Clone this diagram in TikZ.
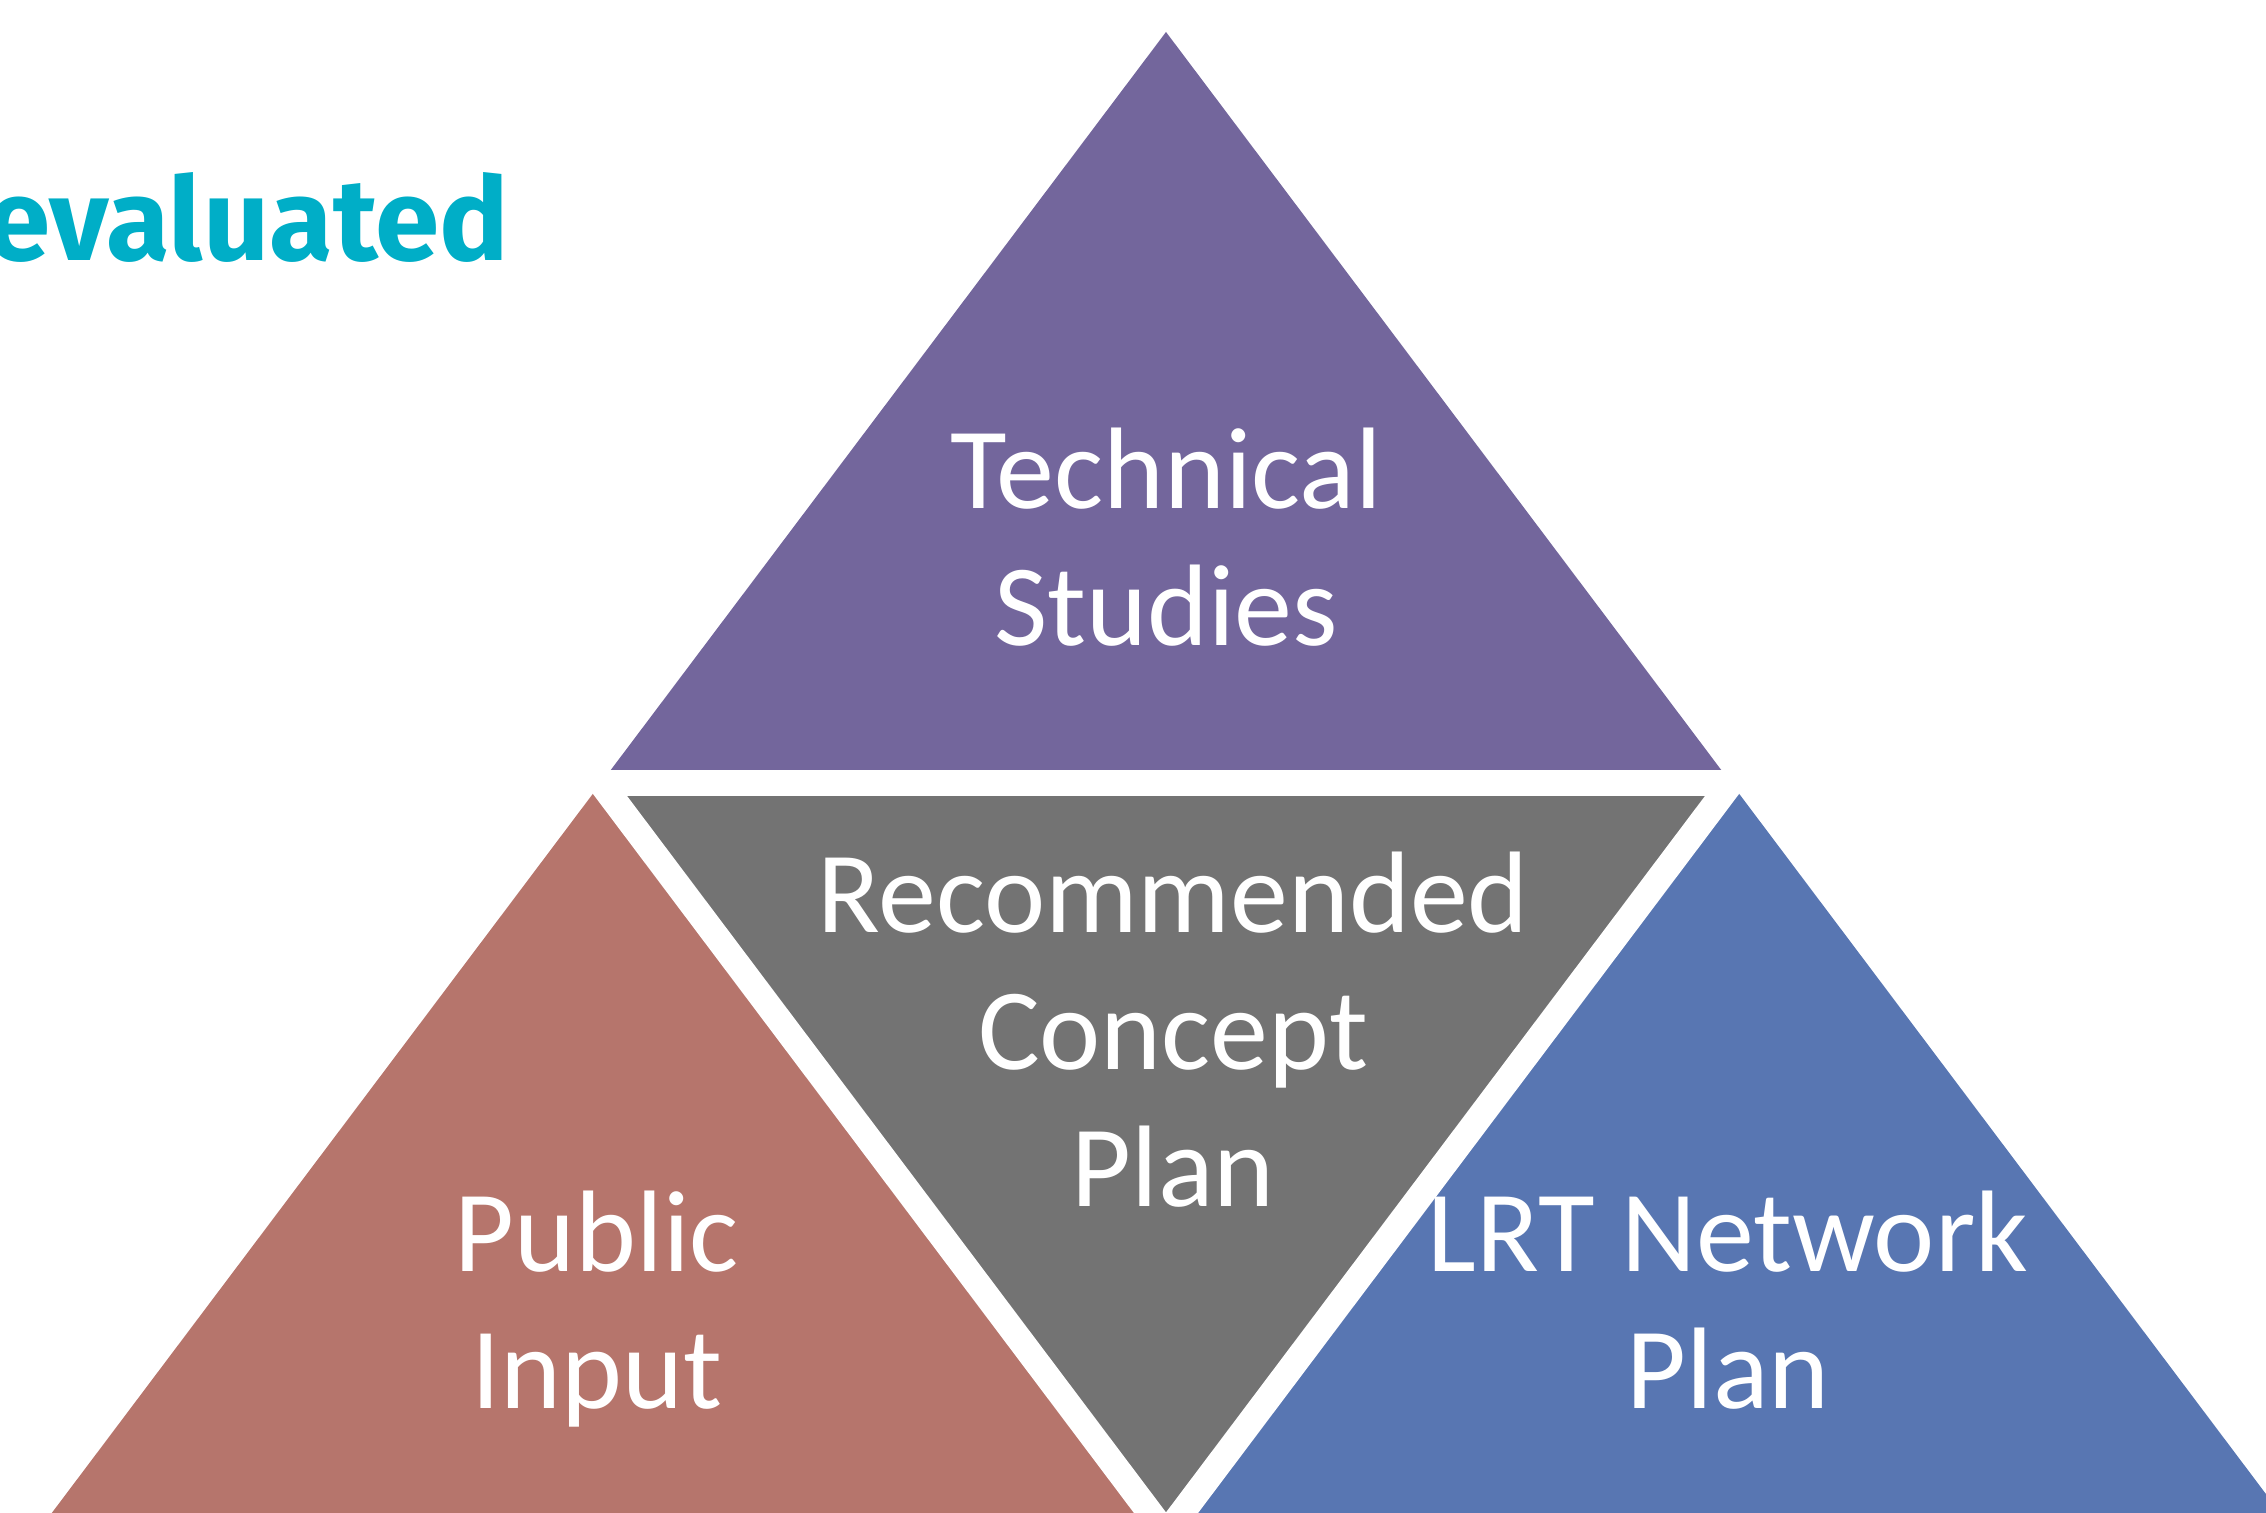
\documentclass[tikz,border=0pt]{standalone}
\usepackage{fontspec}
\setmainfont{Carlito}
\newfontfamily\headfont{Fira Sans}
\usetikzlibrary{positioning, calc}
\definecolor{techpurple}{HTML}{73669C}
\definecolor{plangray}{HTML}{737373}
\definecolor{publicred}{HTML}{B6756C}
\definecolor{networkblue}{HTML}{5876B2}
\definecolor{headteal}{HTML}{00AEC7}

\begin{document}
\begin{tikzpicture}[
    gap/.style={draw=white, line width=0.26cm, line cap=round},
    label/.style={text=white, align=center, anchor=base, font=\fontsize{33}{39}\selectfont}
]
\useasboundingbox (0,0) rectangle (22.66,15.13);
\clip (0,0) rectangle (22.66,15.13);

% Corners
\coordinate (apex) at (11.66,14.81);
\coordinate (bl) at (0.36,-0.21);
\coordinate (br) at (22.96,-0.21);
\coordinate (ml) at ($(apex)!0.5!(bl)$);
\coordinate (mr) at ($(apex)!0.5!(br)$);
\coordinate (mb) at ($(bl)!0.5!(br)$);

% Triangles
\fill[techpurple] (apex) -- (ml) -- (mr) -- cycle;
\fill[plangray] (ml) -- (mr) -- (mb) -- cycle;
\fill[publicred] (ml) -- (mb) -- (bl) -- cycle;
\fill[networkblue] (mr) -- (br) -- (mb) -- cycle;

% Gaps
\draw[gap] (ml) -- (mr);
\draw[gap] (ml) -- (mb);
\draw[gap] (mr) -- (mb);

% Labels (base = last line)
\node[label] (tech) at (11.66,8.67) {Technical\\Studies};
\node[label] (plan) at (11.73,3.06) {Recommended\\Concept\\Plan};
\node[label] (public) at (5.97,1.04) {Public\\Input};
\node[label] (network) at (17.28,1.04) {LRT Network\\Plan};

% Heading
\node[anchor=base east, inner sep=0pt, text=headteal, font=\headfont\bfseries\fontsize{33}{40}\selectfont] (head) at (5.10,12.52) {evaluated};

\end{tikzpicture}
\end{document}
